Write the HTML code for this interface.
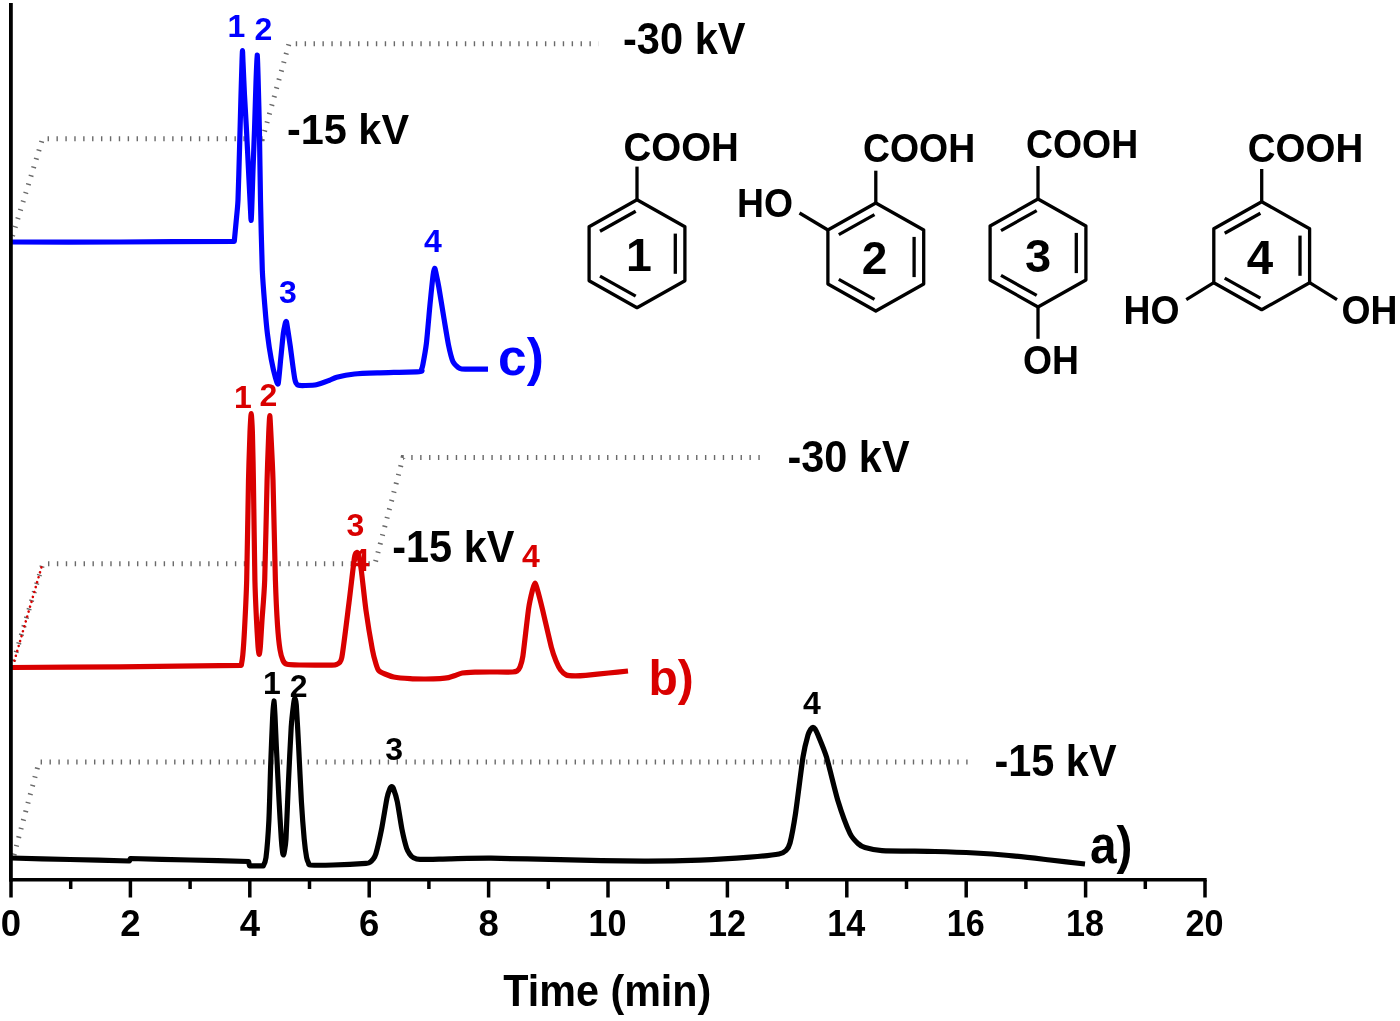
<!DOCTYPE html>
<html lang="en"><head><meta charset="utf-8"><title>Electropherograms</title>
<style>html,body{margin:0;padding:0;background:#fff}svg{display:block}</style></head>
<body>
<svg width="1400" height="1021" viewBox="0 0 1400 1021" font-family='&quot;Liberation Sans&quot;, Arial, Helvetica, sans-serif'>
<rect width="1400" height="1021" fill="#fff"/>
<path d="M12.5 236.0 L42.5 138.8 L262.5 138.8 L289.0 43.7 L598.5 43.7" fill="none" stroke="#6a6a6a" stroke-width="5" stroke-dasharray="1.4 7.5" stroke-linecap="butt"/>
<path d="M13.5 661.0 L42.8 563.7 L375.0 563.7 L403.0 457.6 L766.0 457.6" fill="none" stroke="#6a6a6a" stroke-width="5" stroke-dasharray="1.4 7.5" stroke-linecap="butt"/>
<path d="M14.0 855.0 L39.0 762.0 L974.0 762.0" fill="none" stroke="#6a6a6a" stroke-width="5" stroke-dasharray="1.4 7.5" stroke-linecap="butt"/>
<path d="M14.4 660.7 L42.8 562.6" fill="none" stroke="#d90000" stroke-width="2.6" stroke-dasharray="0.01 5.1" stroke-linecap="round"/>
<path d="M11.00 242.00 C22.81 242.00 95.81 242.08 120.00 242.00 C144.19 241.92 234.30 241.30 234.30 241.30 C234.30 241.30 235.80 225.47 236.20 221.00 C236.60 216.53 237.64 207.69 238.00 200.00 C238.36 192.31 239.18 161.38 239.50 150.00 C239.82 138.62 240.73 104.53 241.00 95.00 C241.27 85.47 241.84 66.82 242.00 62.00 C242.16 57.18 242.39 50.50 242.50 50.50 C242.61 50.50 242.78 57.18 243.00 62.00 C243.22 66.82 244.12 87.63 244.50 95.00 C244.88 102.37 246.01 120.79 246.50 130.00 C246.99 139.21 248.57 171.33 249.00 180.00 C249.43 188.67 250.27 205.61 250.50 210.00 C250.73 214.39 250.97 220.50 251.10 220.50 C251.23 220.50 251.49 215.47 251.70 210.00 C251.91 204.53 252.70 178.67 253.00 170.00 C253.30 161.33 254.18 139.53 254.50 130.00 C254.82 120.47 255.71 90.12 256.00 82.00 C256.29 73.88 256.97 55.43 257.20 55.00 C257.43 54.57 257.86 69.88 258.10 78.00 C258.34 86.12 259.14 116.78 259.40 130.00 C259.66 143.22 260.19 184.83 260.50 200.00 C260.81 215.17 261.81 258.30 262.30 270.00 C262.79 281.70 264.45 301.11 265.00 308.00 C265.55 314.89 266.73 328.08 267.40 333.60 C268.07 339.12 270.31 354.17 271.20 359.00 C272.09 363.83 274.84 375.55 275.60 378.20 C276.36 380.85 277.65 385.58 278.20 383.50 C278.75 381.42 280.15 364.41 280.70 359.00 C281.25 353.59 282.81 337.45 283.30 333.60 C283.79 329.75 284.91 324.81 285.20 323.50 C285.49 322.19 285.83 321.50 286.00 321.50 C286.17 321.50 286.33 320.80 286.80 323.50 C287.27 326.20 289.65 341.85 290.30 346.40 C290.95 350.95 292.32 362.02 292.80 365.50 C293.28 368.98 294.35 376.60 294.70 378.50 C295.05 380.40 295.59 382.26 296.00 383.00 C296.41 383.74 297.52 385.03 298.50 385.30 C299.48 385.57 303.06 385.55 305.00 385.50 C306.94 385.45 313.80 385.34 316.40 384.80 C319.00 384.26 326.80 381.32 329.00 380.50 C331.20 379.68 333.94 377.90 336.70 377.20 C339.46 376.50 349.81 374.48 354.50 374.00 C359.19 373.52 372.97 373.06 380.00 372.80 C387.03 372.54 414.90 371.96 419.40 371.60 C423.90 371.24 421.12 370.26 421.50 369.50 C421.88 368.74 422.37 367.43 422.90 364.60 C423.43 361.77 425.63 349.90 426.40 343.40 C427.17 336.90 429.27 312.01 430.00 304.60 C430.73 297.19 432.59 278.93 433.10 275.00 C433.61 271.07 434.36 268.41 434.70 268.30 C435.04 268.19 435.76 271.97 436.20 274.00 C436.64 276.03 437.95 282.16 438.80 287.00 C439.65 291.84 442.95 312.42 444.00 318.70 C445.05 324.98 447.54 340.36 448.50 345.00 C449.46 349.64 451.85 359.05 452.90 361.50 C453.95 363.95 457.25 366.79 458.20 367.60 C459.15 368.41 459.88 368.83 461.70 369.00 C463.52 369.17 472.15 369.18 475.00 369.20 C477.85 369.22 486.59 369.20 488.00 369.20" fill="none" stroke="#0000ff" stroke-width="5.2" stroke-linejoin="round" stroke-linecap="butt"/>
<path d="M11.00 667.50 C22.81 667.42 95.05 667.04 120.00 666.80 C144.95 666.56 241.30 665.30 241.30 665.30 C241.30 665.30 242.45 658.82 242.80 655.00 C243.15 651.18 244.08 638.12 244.50 630.00 C244.92 621.88 246.27 596.25 246.70 580.00 C247.13 563.75 248.14 496.03 248.50 480.00 C248.86 463.97 249.71 439.20 250.00 432.00 C250.29 424.80 250.94 413.50 251.20 413.50 C251.46 413.50 252.16 424.80 252.40 432.00 C252.64 439.20 253.13 463.97 253.40 480.00 C253.67 496.03 254.56 564.83 254.90 580.00 C255.24 595.17 256.16 612.85 256.50 620.00 C256.84 627.15 257.75 642.42 258.00 646.00 C258.25 649.58 258.67 652.08 258.80 653.00 C258.93 653.92 259.11 654.50 259.20 654.50 C259.29 654.50 259.47 653.92 259.60 653.00 C259.73 652.08 260.14 649.58 260.40 646.00 C260.66 642.42 261.53 627.15 262.00 620.00 C262.47 612.85 264.15 595.17 264.70 580.00 C265.25 564.83 266.67 495.82 267.10 480.00 C267.53 464.18 268.41 440.99 268.70 434.00 C268.99 427.01 269.56 415.50 269.80 415.50 C270.04 415.50 270.55 427.01 270.90 434.00 C271.25 440.99 272.51 464.18 273.00 480.00 C273.49 495.82 274.91 564.29 275.40 580.00 C275.89 595.71 277.00 617.45 277.50 625.00 C278.00 632.55 279.40 645.85 280.00 649.70 C280.60 653.55 282.24 658.92 283.00 660.50 C283.76 662.08 285.16 663.81 287.00 664.30 C288.84 664.79 295.34 664.90 300.00 665.00 C304.66 665.10 326.06 665.25 330.00 665.20 C333.94 665.15 335.12 665.33 336.40 664.50 C337.68 663.67 340.44 664.20 341.80 657.50 C343.17 650.80 347.63 613.48 349.00 602.70 C350.37 591.92 353.59 563.41 354.40 558.00 C355.21 552.59 356.06 553.23 356.50 552.80 C356.94 552.37 357.97 552.03 358.50 554.00 C359.03 555.97 360.59 564.88 361.40 571.00 C362.21 577.12 364.81 601.97 366.00 610.50 C367.19 619.03 371.32 643.90 372.40 649.70 C373.48 655.50 375.32 661.75 376.00 664.00 C376.68 666.25 377.72 669.42 378.70 670.50 C379.68 671.58 383.38 673.30 385.00 674.00 C386.62 674.70 390.99 676.49 393.70 677.00 C396.41 677.51 406.53 678.48 410.00 678.70 C413.47 678.92 422.45 679.01 425.70 679.00 C428.95 678.99 437.52 678.75 440.00 678.60 C442.48 678.45 446.98 677.94 448.60 677.60 C450.23 677.26 453.52 676.00 455.00 675.50 C456.48 675.00 460.13 673.36 462.30 673.00 C464.47 672.64 472.03 672.31 475.00 672.20 C477.97 672.09 485.63 672.02 489.70 672.00 C493.77 671.98 509.64 672.11 512.60 672.00 C515.56 671.89 516.20 671.54 517.00 671.00 C517.80 670.46 519.36 668.62 520.00 667.00 C520.64 665.38 521.97 662.33 522.90 656.00 C523.83 649.67 527.56 615.75 528.60 608.60 C529.64 601.45 531.81 592.75 532.50 590.00 C533.19 587.25 534.46 583.20 535.00 583.20 C535.54 583.20 536.71 587.25 537.50 590.00 C538.29 592.75 540.79 602.38 542.30 608.60 C543.81 614.82 549.92 641.72 551.40 647.40 C552.88 653.08 555.00 658.55 556.00 661.00 C557.00 663.45 559.48 668.48 560.60 670.00 C561.72 671.52 564.74 674.37 566.30 675.00 C567.86 675.63 572.90 675.77 575.00 675.80 C577.10 675.83 582.06 675.60 585.70 675.30 C589.34 675.00 604.02 673.47 608.60 673.00 C613.18 672.53 625.90 671.22 628.00 671.00" fill="none" stroke="#d90000" stroke-width="5.2" stroke-linejoin="round" stroke-linecap="butt"/>
<path d="M11.00 858.00 C17.39 858.16 57.18 859.17 70.00 859.50 C82.82 859.83 129.30 861.00 129.30 861.00 C129.30 861.00 130.50 858.50 130.50 858.50 C130.50 858.50 177.21 859.67 190.00 860.00 C202.79 860.33 248.60 861.50 248.60 861.50 C248.60 861.50 249.50 865.80 249.50 865.80 C249.50 865.80 263.30 865.80 263.30 865.80 C263.30 865.80 265.39 862.43 266.00 857.50 C266.61 852.57 268.39 830.38 268.90 820.30 C269.41 810.22 270.30 775.58 270.70 764.50 C271.10 753.42 272.25 724.88 272.60 718.00 C272.95 711.12 273.64 701.22 273.90 701.00 C274.16 700.78 274.74 711.15 275.00 716.00 C275.26 720.85 275.86 736.52 276.30 745.80 C276.74 755.08 278.56 791.61 279.10 801.70 C279.64 811.79 280.92 833.40 281.30 838.90 C281.68 844.40 282.37 850.76 282.60 852.50 C282.83 854.24 283.23 855.00 283.40 855.00 C283.57 855.00 283.92 854.24 284.20 852.50 C284.48 850.76 285.55 846.43 286.00 838.90 C286.45 831.37 287.84 795.10 288.40 783.00 C288.96 770.90 290.64 735.76 291.20 727.20 C291.76 718.64 293.20 707.14 293.60 704.00 C294.00 700.86 294.61 698.09 294.90 698.20 C295.19 698.31 295.90 699.84 296.30 705.00 C296.70 710.16 298.05 735.32 298.60 745.80 C299.15 756.28 300.79 791.61 301.40 801.70 C302.01 811.79 303.64 832.86 304.20 838.90 C304.76 844.94 306.13 854.89 306.60 857.50 C307.07 860.11 308.06 862.19 308.50 863.00 C308.94 863.81 308.05 864.78 310.70 865.00 C313.35 865.22 327.01 865.18 333.00 865.00 C338.99 864.82 361.99 863.60 366.00 863.30 C370.01 863.00 369.24 862.63 370.00 862.20 C370.76 861.77 372.36 860.21 373.00 859.30 C373.64 858.39 374.98 857.02 375.90 853.80 C376.82 850.58 380.30 835.64 381.50 829.60 C382.70 823.56 386.08 802.45 387.00 798.00 C387.92 793.55 389.49 789.75 390.00 788.50 C390.51 787.25 391.33 786.50 391.70 786.50 C392.07 786.50 392.79 786.85 393.40 788.50 C394.01 790.15 396.37 797.25 397.30 801.70 C398.23 806.15 400.99 824.56 402.00 829.60 C403.01 834.64 405.73 845.50 406.60 848.20 C407.47 850.90 409.30 853.49 410.00 854.50 C410.70 855.51 412.02 856.97 413.10 857.50 C414.18 858.03 416.00 859.26 420.00 859.40 C424.00 859.54 442.31 858.93 450.00 858.80 C457.69 858.67 479.08 858.10 491.00 858.20 C502.92 858.30 543.42 859.38 560.00 859.70 C576.58 860.03 628.83 861.15 644.00 861.20 C659.17 861.25 688.52 860.63 700.00 860.20 C711.48 859.77 741.44 857.87 750.00 857.20 C758.56 856.53 775.10 854.73 779.00 854.00 C782.90 853.27 784.81 851.69 786.00 850.50 C787.19 849.31 788.96 847.06 790.00 843.00 C791.04 838.94 794.19 822.32 795.60 813.00 C797.01 803.68 801.66 765.45 803.00 757.00 C804.34 748.55 807.13 738.05 808.00 735.00 C808.87 731.95 810.46 729.63 811.00 728.80 C811.54 727.97 812.57 727.30 813.00 727.30 C813.43 727.30 814.46 727.97 815.00 728.80 C815.54 729.63 816.75 731.95 818.00 735.00 C819.25 738.05 824.33 749.85 826.50 757.00 C828.67 764.15 835.45 792.71 838.00 801.00 C840.55 809.29 847.83 828.90 850.00 833.50 C852.17 838.10 856.38 841.97 858.00 843.50 C859.62 845.03 862.40 846.83 865.00 847.60 C867.60 848.37 874.42 850.18 882.00 850.60 C889.58 851.02 924.92 851.24 935.00 851.50 C945.08 851.76 966.98 852.57 975.00 853.00 C983.02 853.43 1000.88 854.74 1009.00 855.50 C1017.12 856.26 1041.77 859.08 1050.00 860.00 C1058.23 860.92 1081.21 863.57 1085.00 864.00" fill="none" stroke="#000000" stroke-width="5.2" stroke-linejoin="round" stroke-linecap="butt"/>
<path d="M10.9 3V881.5" stroke="#000" stroke-width="3.8" fill="none"/>
<path d="M9.3 879.8H1206.7" stroke="#000" stroke-width="3.5" fill="none"/>
<path d="M11.0 880V897.5" stroke="#000" stroke-width="3.5"/>
<path d="M70.7 880V889" stroke="#000" stroke-width="3.5"/>
<path d="M130.4 880V897.5" stroke="#000" stroke-width="3.5"/>
<path d="M190.1 880V889" stroke="#000" stroke-width="3.5"/>
<path d="M249.8 880V897.5" stroke="#000" stroke-width="3.5"/>
<path d="M309.5 880V889" stroke="#000" stroke-width="3.5"/>
<path d="M369.2 880V897.5" stroke="#000" stroke-width="3.5"/>
<path d="M428.9 880V889" stroke="#000" stroke-width="3.5"/>
<path d="M488.6 880V897.5" stroke="#000" stroke-width="3.5"/>
<path d="M548.3 880V889" stroke="#000" stroke-width="3.5"/>
<path d="M608.0 880V897.5" stroke="#000" stroke-width="3.5"/>
<path d="M667.7 880V889" stroke="#000" stroke-width="3.5"/>
<path d="M727.4 880V897.5" stroke="#000" stroke-width="3.5"/>
<path d="M787.1 880V889" stroke="#000" stroke-width="3.5"/>
<path d="M846.8 880V897.5" stroke="#000" stroke-width="3.5"/>
<path d="M906.5 880V889" stroke="#000" stroke-width="3.5"/>
<path d="M966.2 880V897.5" stroke="#000" stroke-width="3.5"/>
<path d="M1025.9 880V889" stroke="#000" stroke-width="3.5"/>
<path d="M1085.6 880V897.5" stroke="#000" stroke-width="3.5"/>
<path d="M1145.3 880V889" stroke="#000" stroke-width="3.5"/>
<path d="M1205.0 880V897.5" stroke="#000" stroke-width="3.5"/>
<text x="11.0" y="936.0" font-size="36.5" fill="#000" text-anchor="middle" font-weight="bold">0</text>
<text x="130.4" y="936.0" font-size="36.5" fill="#000" text-anchor="middle" font-weight="bold">2</text>
<text x="249.8" y="936.0" font-size="36.5" fill="#000" text-anchor="middle" font-weight="bold">4</text>
<text x="369.2" y="936.0" font-size="36.5" fill="#000" text-anchor="middle" font-weight="bold">6</text>
<text x="488.6" y="936.0" font-size="36.5" fill="#000" text-anchor="middle" font-weight="bold">8</text>
<text x="607.5" y="936.0" font-size="36.5" fill="#000" text-anchor="middle" font-weight="bold" textLength="38.0" lengthAdjust="spacingAndGlyphs">10</text>
<text x="726.9" y="936.0" font-size="36.5" fill="#000" text-anchor="middle" font-weight="bold" textLength="38.0" lengthAdjust="spacingAndGlyphs">12</text>
<text x="846.3" y="936.0" font-size="36.5" fill="#000" text-anchor="middle" font-weight="bold" textLength="38.0" lengthAdjust="spacingAndGlyphs">14</text>
<text x="965.7" y="936.0" font-size="36.5" fill="#000" text-anchor="middle" font-weight="bold" textLength="38.0" lengthAdjust="spacingAndGlyphs">16</text>
<text x="1085.1" y="936.0" font-size="36.5" fill="#000" text-anchor="middle" font-weight="bold" textLength="38.0" lengthAdjust="spacingAndGlyphs">18</text>
<text x="1204.5" y="936.0" font-size="36.5" fill="#000" text-anchor="middle" font-weight="bold" textLength="38.0" lengthAdjust="spacingAndGlyphs">20</text>
<text x="607.3" y="1006.2" font-size="44.0" fill="#000" text-anchor="middle" font-weight="bold" textLength="208.0" lengthAdjust="spacingAndGlyphs">Time (min)</text>
<text x="623.0" y="53.6" font-size="45.0" fill="#000" text-anchor="start" font-weight="bold" textLength="122.5" lengthAdjust="spacingAndGlyphs">-30 kV</text>
<text x="287.0" y="144.4" font-size="42.5" fill="#000" text-anchor="start" font-weight="bold" textLength="122.0" lengthAdjust="spacingAndGlyphs">-15 kV</text>
<text x="787.5" y="472.0" font-size="44.0" fill="#000" text-anchor="start" font-weight="bold" textLength="122.0" lengthAdjust="spacingAndGlyphs">-30 kV</text>
<text x="392.3" y="561.8" font-size="44.0" fill="#000" text-anchor="start" font-weight="bold" textLength="122.0" lengthAdjust="spacingAndGlyphs">-15 kV</text>
<text x="994.5" y="776.0" font-size="44.0" fill="#000" text-anchor="start" font-weight="bold" textLength="122.0" lengthAdjust="spacingAndGlyphs">-15 kV</text>
<text x="498.0" y="375.0" font-size="51.5" fill="#0000ff" text-anchor="start" font-weight="bold">c)</text>
<text x="648.5" y="695.4" font-size="50.0" fill="#d90000" text-anchor="start" font-weight="bold" textLength="45.3" lengthAdjust="spacingAndGlyphs">b)</text>
<text x="1090.0" y="863.4" font-size="51.0" fill="#000000" text-anchor="start" font-weight="bold" textLength="42.5" lengthAdjust="spacingAndGlyphs">a)</text>
<text x="236.5" y="37.4" font-size="32.0" fill="#0000ff" text-anchor="middle" font-weight="bold">1</text>
<text x="263.3" y="40.0" font-size="32.0" fill="#0000ff" text-anchor="middle" font-weight="bold">2</text>
<text x="288.0" y="303.0" font-size="32.0" fill="#0000ff" text-anchor="middle" font-weight="bold">3</text>
<text x="433.0" y="251.8" font-size="32.0" fill="#0000ff" text-anchor="middle" font-weight="bold">4</text>
<text x="243.0" y="408.0" font-size="32.0" fill="#d90000" text-anchor="middle" font-weight="bold">1</text>
<text x="268.5" y="405.7" font-size="32.0" fill="#d90000" text-anchor="middle" font-weight="bold">2</text>
<text x="355.5" y="536.0" font-size="32.0" fill="#d90000" text-anchor="middle" font-weight="bold">3</text>
<text x="531.0" y="566.7" font-size="32.0" fill="#d90000" text-anchor="middle" font-weight="bold">4</text>
<text x="360.4" y="571.3" font-size="32.0" fill="#d90000" text-anchor="middle" font-weight="bold">4</text>
<text x="272.0" y="693.5" font-size="32.0" fill="#000000" text-anchor="middle" font-weight="bold">1</text>
<text x="298.6" y="696.7" font-size="32.0" fill="#000000" text-anchor="middle" font-weight="bold">2</text>
<text x="394.2" y="759.6" font-size="32.0" fill="#000000" text-anchor="middle" font-weight="bold">3</text>
<text x="812.0" y="713.8" font-size="32.0" fill="#000000" text-anchor="middle" font-weight="bold">4</text>
<path d="M637.0 199.7 L684.9 226.7 L684.9 280.7 L637.0 307.7 L589.1 280.7 L589.1 226.7Z" stroke="#000" stroke-width="3.3" stroke-linejoin="round" fill="none"/>
<path d="M600.0 231.3 L635.7 211.3" stroke="#000" stroke-width="3.3" stroke-linecap="butt" fill="none"/>
<path d="M675.3 233.6 L675.3 273.8" stroke="#000" stroke-width="3.3" stroke-linecap="butt" fill="none"/>
<path d="M635.7 296.1 L600.0 276.1" stroke="#000" stroke-width="3.3" stroke-linecap="butt" fill="none"/>
<path d="M637.0 199.7 L637.0 166.6" stroke="#000" stroke-width="3.3" stroke-linecap="butt" fill="none"/>
<text x="623.5" y="160.6" font-size="40.5" fill="#000" text-anchor="start" font-weight="bold" textLength="115.4" lengthAdjust="spacingAndGlyphs">COOH</text>
<text x="639.0" y="271.2" font-size="46.5" fill="#000" text-anchor="middle" font-weight="bold">1</text>
<path d="M875.8 203.0 L923.7 230.0 L923.7 284.0 L875.8 311.0 L827.9 284.0 L827.9 230.0Z" stroke="#000" stroke-width="3.3" stroke-linejoin="round" fill="none"/>
<path d="M838.8 234.6 L874.5 214.6" stroke="#000" stroke-width="3.3" stroke-linecap="butt" fill="none"/>
<path d="M914.1 236.9 L914.1 277.1" stroke="#000" stroke-width="3.3" stroke-linecap="butt" fill="none"/>
<path d="M874.5 299.4 L838.8 279.4" stroke="#000" stroke-width="3.3" stroke-linecap="butt" fill="none"/>
<path d="M875.8 203.0 L875.8 170.7" stroke="#000" stroke-width="3.3" stroke-linecap="butt" fill="none"/>
<text x="863.0" y="161.6" font-size="40.5" fill="#000" text-anchor="start" font-weight="bold" textLength="112.2" lengthAdjust="spacingAndGlyphs">COOH</text>
<path d="M827.9 230.0 L799.5 213.0" stroke="#000" stroke-width="3.3" stroke-linecap="butt" fill="none"/>
<text x="737.0" y="217.0" font-size="40.5" fill="#000" text-anchor="start" font-weight="bold" textLength="56.0" lengthAdjust="spacingAndGlyphs">HO</text>
<text x="874.5" y="274.4" font-size="46.0" fill="#000" text-anchor="middle" font-weight="bold">2</text>
<path d="M1038.0 199.0 L1085.9 226.0 L1085.9 280.0 L1038.0 307.0 L990.1 280.0 L990.1 226.0Z" stroke="#000" stroke-width="3.3" stroke-linejoin="round" fill="none"/>
<path d="M1001.0 230.6 L1036.7 210.6" stroke="#000" stroke-width="3.3" stroke-linecap="butt" fill="none"/>
<path d="M1076.3 232.9 L1076.3 273.1" stroke="#000" stroke-width="3.3" stroke-linecap="butt" fill="none"/>
<path d="M1036.7 295.4 L1001.0 275.4" stroke="#000" stroke-width="3.3" stroke-linecap="butt" fill="none"/>
<path d="M1038.0 199.0 L1038.0 166.0" stroke="#000" stroke-width="3.3" stroke-linecap="butt" fill="none"/>
<text x="1026.0" y="158.0" font-size="40.5" fill="#000" text-anchor="start" font-weight="bold" textLength="112.2" lengthAdjust="spacingAndGlyphs">COOH</text>
<path d="M1038.0 307.0 L1038.0 338.8" stroke="#000" stroke-width="3.3" stroke-linecap="butt" fill="none"/>
<text x="1023.0" y="374.0" font-size="40.5" fill="#000" text-anchor="start" font-weight="bold" textLength="56.0" lengthAdjust="spacingAndGlyphs">OH</text>
<text x="1038.0" y="272.2" font-size="47.0" fill="#000" text-anchor="middle" font-weight="bold">3</text>
<path d="M1261.7 201.7 L1309.6 228.7 L1309.6 282.7 L1261.7 309.7 L1213.8 282.7 L1213.8 228.7Z" stroke="#000" stroke-width="3.3" stroke-linejoin="round" fill="none"/>
<path d="M1224.7 233.3 L1260.4 213.3" stroke="#000" stroke-width="3.3" stroke-linecap="butt" fill="none"/>
<path d="M1300.0 235.6 L1300.0 275.8" stroke="#000" stroke-width="3.3" stroke-linecap="butt" fill="none"/>
<path d="M1260.4 298.1 L1224.7 278.1" stroke="#000" stroke-width="3.3" stroke-linecap="butt" fill="none"/>
<path d="M1261.7 201.7 L1261.7 169.0" stroke="#000" stroke-width="3.3" stroke-linecap="butt" fill="none"/>
<text x="1247.8" y="161.6" font-size="40.5" fill="#000" text-anchor="start" font-weight="bold" textLength="115.4" lengthAdjust="spacingAndGlyphs">COOH</text>
<path d="M1213.8 282.7 L1186.3 299.6" stroke="#000" stroke-width="3.3" stroke-linecap="butt" fill="none"/>
<path d="M1309.6 282.7 L1337.0 299.6" stroke="#000" stroke-width="3.3" stroke-linecap="butt" fill="none"/>
<text x="1123.5" y="323.8" font-size="40.5" fill="#000" text-anchor="start" font-weight="bold" textLength="56.0" lengthAdjust="spacingAndGlyphs">HO</text>
<text x="1341.5" y="323.8" font-size="40.5" fill="#000" text-anchor="start" font-weight="bold" textLength="56.0" lengthAdjust="spacingAndGlyphs">OH</text>
<text x="1260.0" y="274.0" font-size="47.5" fill="#000" text-anchor="middle" font-weight="bold">4</text>
</svg>
</body></html>
